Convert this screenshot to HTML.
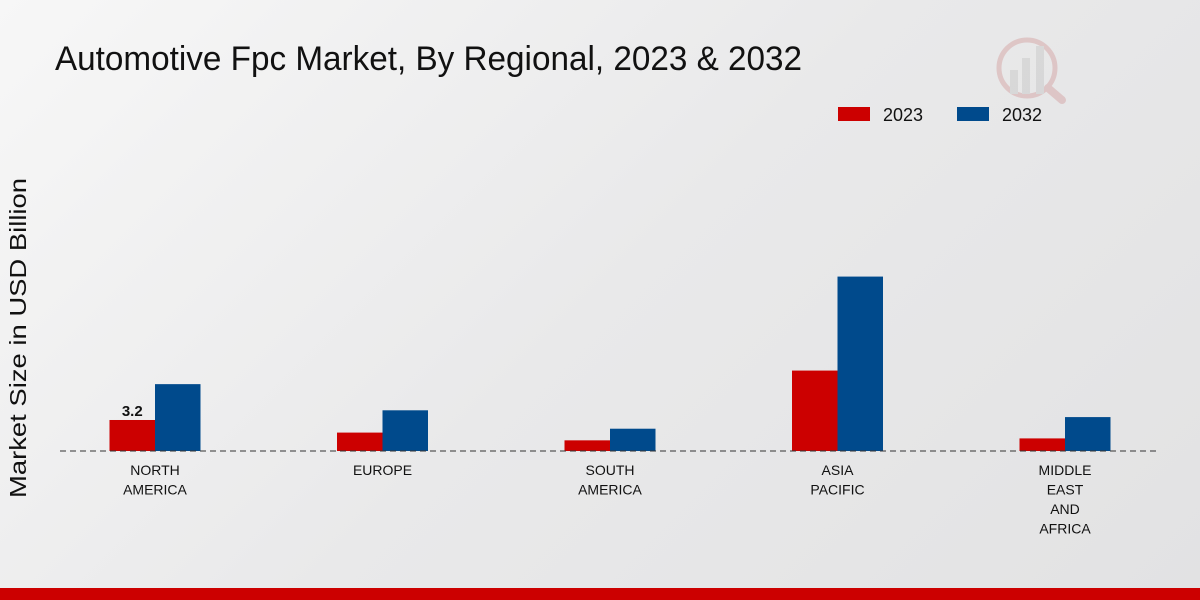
<!DOCTYPE html>
<html><head><meta charset="utf-8"><style>
html,body{margin:0;padding:0;width:1200px;height:600px;overflow:hidden}
body{background:linear-gradient(135deg,#f7f7f7 0%,#e9e9ea 50%,#e2e2e3 100%);font-family:"Liberation Sans",sans-serif}
</style></head><body>
<svg id="chart" width="1200" height="600" xmlns="http://www.w3.org/2000/svg">
<text x="55" y="70" font-size="34" fill="#111" textLength="747" lengthAdjust="spacingAndGlyphs" font-family="Liberation Sans, sans-serif">Automotive Fpc Market, By Regional, 2023 &amp; 2032</text>
<text transform="translate(26,338) rotate(-90)" text-anchor="middle" font-size="23" fill="#111" textLength="320" lengthAdjust="spacingAndGlyphs">Market Size in USD Billion</text>
<g>
<rect x="838" y="107" width="32" height="14" fill="#cc0000"/>
<text x="883" y="121" font-size="18" fill="#111">2023</text>
<rect x="957" y="107" width="32" height="14" fill="#004a8c"/>
<text x="1002" y="121" font-size="18" fill="#111">2032</text>
</g>
<g opacity="0.35">
<circle cx="1027" cy="68" r="28" fill="none" stroke="#c88" stroke-width="5"/>
<rect x="1010" y="70" width="8" height="24" fill="#bbb"/><rect x="1022" y="58" width="8" height="36" fill="#bbb"/><rect x="1036" y="46" width="8" height="48" fill="#bbb"/>
<line x1="1048" y1="88" x2="1062" y2="100" stroke="#c88" stroke-width="8" stroke-linecap="round"/>
</g>
<g id="plot"></g>
<rect x="0" y="588" width="1200" height="12" fill="#cc0000"/>
</svg>
<script>
const categories=[["NORTH","AMERICA"],["EUROPE"],["SOUTH","AMERICA"],["ASIA","PACIFIC"],["MIDDLE","EAST","AND","AFRICA"]];
const values2023=[3.2,1.9,1.1,8.3,1.3];
const values2032=[6.9,4.2,2.3,18.0,3.5];
const labelShown=[3.2,null,null,null,null];
const NS="http://www.w3.org/2000/svg";
const plot=document.getElementById('plot');
const baseY=451,pxPerUnit=9.69,x0=155,step=227.5,bw=45.5;
const y=v=>baseY-v*pxPerUnit;
const xc=i=>x0+i*step;
function mk(t,a){const e=document.createElementNS(NS,t);for(const k in a)e.setAttribute(k,a[k]);plot.appendChild(e);return e;}
categories.forEach((c,i)=>{
 const r=mk('rect',{x:xc(i)-bw,y:y(values2023[i]),width:bw,height:values2023[i]*pxPerUnit,fill:'#cc0000'});
 
 
 const b=mk('rect',{x:xc(i),y:y(values2032[i]),width:bw,height:values2032[i]*pxPerUnit,fill:'#004a8c'});
 
 
 if(labelShown[i]!=null){const t=mk('text',{x:xc(i)-bw/2,y:y(values2023[i])-4,'text-anchor':'middle','font-size':15,'font-weight':'bold',fill:'#111'});t.textContent=String(labelShown[i]);
 
 }
 c.forEach((ln,j)=>{const t=mk('text',{x:xc(i),y:475+j*19.5,'text-anchor':'middle','font-size':14,fill:'#111'});t.textContent=ln;
 
 });
});
const ax=mk('line',{x1:60,x2:1160,y1:baseY,y2:baseY,stroke:'#333','stroke-dasharray':'6,4','stroke-width':1});


</script>
</body></html>
